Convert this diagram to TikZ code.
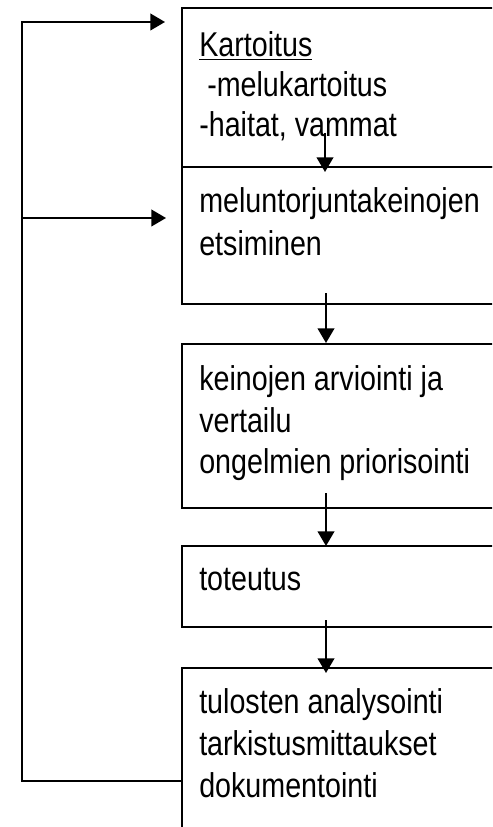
\documentclass[tikz,border=0pt]{standalone}
\usepackage{graphicx}
\usepackage{fontspec}
\setmainfont{Liberation Sans}
\usetikzlibrary{arrows.meta}
\newcommand{\tallt}[1]{\scalebox{1}[1.2]{#1}}
\begin{document}
\begin{tikzpicture}[x=0.75pt,y=-0.75pt,
  box/.style={draw, line width=1.5pt, rectangle, inner sep=0pt, minimum width=247.5pt, anchor=north west},
  txt/.style={inner sep=0pt, anchor=base west, font=\fontsize{21.5}{30}\selectfont},
  arr/.style={line width=1.5pt, -{Triangle[length=11pt,width=12.5pt]}},
  link/.style={line width=1.8pt, line join=miter}]
\useasboundingbox (0,0) rectangle (492,827);
\clip (0,0) rectangle (492,827);
% boxes
\node[box, minimum height=119.25pt] (b1) at (181,7) {};
\node[box, minimum height=102.75pt] (b2) at (181,166) {};
\node[box, minimum height=123pt] (b3) at (181,343) {};
\node[box, minimum height=60.75pt] (b4) at (181,545) {};
\node[box, minimum height=150pt] (b5) at (181,667) {};
% texts
\node[txt] (t1a) at (199,57) {\tallt{\underline{Kartoitus}}};
\node[txt] (t1b) at (207,97) {\tallt{-melukartoitus}};
\node[txt] (t1c) at (199,137) {\tallt{-haitat, vammat}};
\node[txt] (t2a) at (199,213) {\tallt{meluntorjuntakeinojen}};
\node[txt] (t2b) at (199,255) {\tallt{etsiminen}};
\node[txt] (t3a) at (199,390) {\tallt{keinojen arviointi ja}};
\node[txt] (t3b) at (199,432) {\tallt{vertailu}};
\node[txt] (t3c) at (199,473) {\tallt{ongelmien priorisointi}};
\node[txt] (t4a) at (199,590) {\tallt{toteutus}};
\node[txt] (t5a) at (199,713) {\tallt{tulosten analysointi}};
\node[txt] (t5b) at (199,755) {\tallt{tarkistusmittaukset}};
\node[txt] (t5c) at (199,797) {\tallt{dokumentointi}};
% vertical arrows
\coordinate (s1) at (325,133); \coordinate (e1) at (325,172);
\coordinate (s2) at (326,293); \coordinate (e2) at (326,343);
\coordinate (s3) at (326,493); \coordinate (e3) at (326,546);
\coordinate (s4) at (326,620); \coordinate (e4) at (326,673);
\draw[arr] (s1) -- (e1);
\draw[arr] (s2) -- (e2);
\draw[arr] (s3) -- (e3);
\draw[arr] (s4) -- (e4);
% feedback loop
\coordinate (fb) at (181,781);
\coordinate (c1) at (22,781);
\coordinate (c2) at (22,22);
\coordinate (k1) at (165,22);
\coordinate (c3) at (22,218);
\coordinate (k2) at (166,218);
\draw[link, arr] (fb) -- (c1) -- (c2) -- (k1);
\draw[link, arr] (c3) -- (k2);
\end{tikzpicture}
\end{document}
